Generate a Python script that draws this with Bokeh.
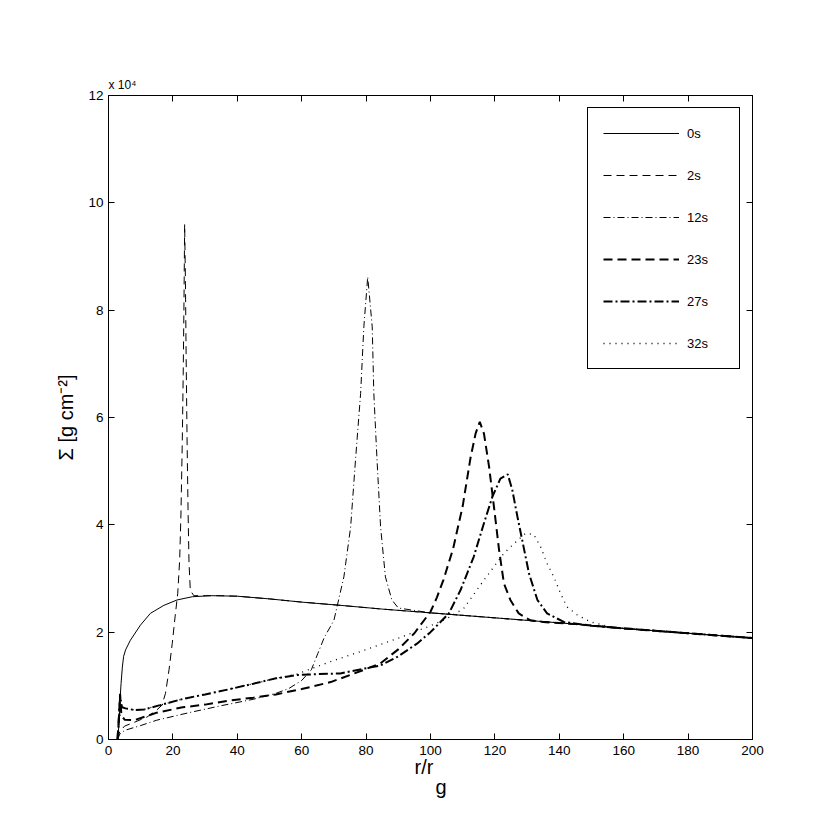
from bokeh.plotting import figure
from bokeh.models import Range1d, LinearAxis, FixedTicker, Legend, LegendItem, Title
from bokeh.embed import file_html
from bokeh.resources import INLINE

# ---- data (Sigma in units of 1e4 g cm^-2) ----
x_ticks = [0, 20, 40, 60, 80, 100, 120, 140, 160, 180, 200]
y_ticks = [0, 2, 4, 6, 8, 10, 12]
labels = ["0s", "2s", "12s", "23s", "27s", "32s"]

r_0s = [2.8, 3.3, 3.6, 3.9, 4.3, 4.7, 5.3, 6.8, 9.9, 13, 17.2, 21.3, 26, 32, 40, 50, 60, 72, 85,
        100, 115, 130, 145, 160, 180, 200]
s_0s = [0.0, 0.3, 0.75, 1.04, 1.35, 1.55, 1.67, 1.85, 2.13, 2.35, 2.50, 2.60, 2.66, 2.68, 2.67, 2.62,
        2.56, 2.50, 2.43, 2.36, 2.29, 2.22, 2.15, 2.07, 1.98, 1.89]

r_2s = [2.8, 3.5, 5, 8, 12, 15, 16.6, 17.7, 18.8, 19.8, 20.7, 21.5, 22.1, 22.5, 22.9, 23.2, 23.45,
        23.65, 23.9, 24.1, 24.4, 24.7, 25.0, 25.4, 26.5, 30, 35, 40, 50, 60, 72, 85, 100, 115, 130,
        145, 160, 180, 200]
s_2s = [0.0, 0.15, 0.25, 0.32, 0.42, 0.55, 0.64, 0.86, 1.3, 1.79, 2.3, 2.72, 3.34, 4.2, 5.5, 6.8, 8.2,
        9.6, 8.5, 7.2, 5.6, 4.3, 3.3, 2.78, 2.68, 2.68, 2.68, 2.67, 2.62, 2.56, 2.50, 2.43, 2.36, 2.29,
        2.22, 2.15, 2.07, 1.98, 1.89]

r_12s = [2.8, 3.5, 5, 10, 15, 25, 35, 45, 52, 56, 60, 63, 65, 67, 70, 73.1, 75.2, 76.7, 78.3, 79.3,
         80.5, 81.9, 82.4, 83.4, 84.5, 86, 88, 90, 100, 115, 130, 145, 160, 180, 200]
s_12s = [0.0, 0.1, 0.17, 0.26, 0.36, 0.5, 0.63, 0.75, 0.86, 0.95, 1.1, 1.3, 1.6, 1.9, 2.22, 3.03, 3.96,
         5.2, 6.45, 7.69, 8.62, 7.69, 6.45, 5.2, 3.96, 3.03, 2.6, 2.45, 2.36, 2.29, 2.22, 2.15, 2.07,
         1.98, 1.89]

r_23s = [2.8, 3.3, 3.6, 4.0, 5, 8, 11, 15, 23, 30, 37, 45, 52, 60, 69, 79, 84.5, 90, 95, 100, 102, 104,
         107, 110, 112.4, 114, 115.3, 116.6, 118.2, 119.7, 121.3, 122.8, 124.8, 127.4, 131, 135, 145,
         160, 180, 200]
s_23s = [0.0, 0.5, 0.85, 0.45, 0.37, 0.36, 0.42, 0.5, 0.6, 0.65, 0.72, 0.78, 0.84, 0.94, 1.07, 1.29,
         1.42, 1.68, 1.98, 2.38, 2.65, 2.97, 3.55, 4.35, 5.24, 5.7, 5.92, 5.7, 5.08, 4.34, 3.53, 2.91,
         2.6, 2.35, 2.22, 2.19, 2.15, 2.07, 1.98, 1.89]

r_27s = [2.8, 3.3, 3.6, 4.2, 5.3, 7.9, 11, 16, 23.4, 30, 37, 45, 52, 58.6, 65, 72, 79.3, 84.5, 89.7,
         95.9, 100, 105.7, 109.3, 113.4, 116.6, 119.2, 121.7, 124, 125.4, 127, 128.5, 130.6, 133.2,
         136.2, 141.4, 150, 160, 180, 200]
s_27s = [0.0, 0.45, 0.8, 0.6, 0.58, 0.55, 0.56, 0.64, 0.76, 0.84, 0.93, 1.04, 1.14, 1.2, 1.22, 1.23,
         1.32, 1.38, 1.54, 1.79, 2.0, 2.35, 2.78, 3.40, 4.03, 4.52, 4.86, 4.94, 4.65, 4.15, 3.71, 3.09,
         2.6, 2.35, 2.19, 2.12, 2.07, 1.98, 1.89]

r_32s = [2.8, 3.3, 3.8, 5.3, 7.9, 11, 16, 23.4, 30, 37, 45, 52, 58.6, 63, 68.9, 79.3, 89.7, 100, 105,
         110.3, 116.6, 122.8, 127, 129.5, 132.1, 134.2, 136.2, 138.3, 140.4, 142.4, 145.6, 149.7, 155,
         160, 180, 200]
s_32s = [0.0, 0.3, 0.55, 0.58, 0.55, 0.56, 0.64, 0.76, 0.84, 0.93, 1.04, 1.14, 1.22, 1.32, 1.45, 1.66,
         1.88, 2.12, 2.25, 2.44, 2.97, 3.47, 3.71, 3.84, 3.82, 3.59, 3.28, 3.03, 2.72, 2.47, 2.32, 2.19,
         2.11, 2.07, 1.98, 1.89]

FONT = "Liberation Sans"

p = figure(width=830, height=832, x_range=Range1d(0, 200), y_range=Range1d(0, 12),
           output_backend="svg", toolbar_location=None,
           min_border_left=108, min_border_right=78, min_border_top=95, min_border_bottom=93)
p.grid.visible = False
p.outline_line_color = "black"
p.outline_line_width = 1
p.background_fill_color = "white"
p.border_fill_color = "white"


def style_axis(ax, show_labels, standoff):
    ax.major_tick_in = 6
    ax.major_tick_out = 0
    ax.minor_tick_line_color = None
    ax.axis_line_color = "black"
    ax.major_tick_line_color = "black"
    ax.major_label_text_font = FONT
    ax.major_label_standoff = standoff
    if show_labels:
        ax.major_label_text_font_size = "13.5px"
        ax.major_label_text_color = "black"
    else:
        ax.major_label_text_font_size = "0px"
        ax.major_label_text_color = None


bottom_ax = p.below[0]
left_ax = p.left[0]
bottom_ax.ticker = FixedTicker(ticks=x_ticks)
left_ax.ticker = FixedTicker(ticks=y_ticks)
style_axis(bottom_ax, True, 6)
style_axis(left_ax, True, 5)

# y axis label (left only)
left_ax.axis_label = "Σ [g cm⁻²]"
left_ax.axis_label_text_font = FONT
left_ax.axis_label_text_font_size = "20px"
left_ax.axis_label_text_font_style = "normal"
left_ax.axis_label_text_color = "black"
left_ax.axis_label_standoff = 8

top_ax = LinearAxis(ticker=FixedTicker(ticks=x_ticks))
right_ax = LinearAxis(ticker=FixedTicker(ticks=y_ticks))
style_axis(top_ax, False, 0)
style_axis(right_ax, False, 0)
p.add_layout(top_ax, "above")
p.add_layout(right_ax, "right")

series = [
    (r_0s, s_0s, 1, None),
    (r_2s, s_2s, 1, "8 5"),
    (r_12s, s_12s, 1, "7 3 1 3"),
    (r_23s, s_23s, 2, "9 5"),
    (r_27s, s_27s, 2, "9 3 2 3"),
    (r_32s, s_32s, 1.3, "1 5"),
]
renderers = []
for r, s, w, dash in series:
    kw = dict(line_color="black", line_width=w)
    if dash:
        kw["line_dash"] = dash
    renderers.append(p.line(r, s, **kw))

legend = Legend(items=[LegendItem(label=l, renderers=[rr]) for l, rr in zip(labels, renderers)],
                location=(479, 370), glyph_width=76, glyph_height=20, label_standoff=8,
                spacing=22, padding=15, margin=0, label_width=37,
                border_line_color="black", border_line_width=1, border_line_alpha=1,
                background_fill_color="white", background_fill_alpha=1,
                label_text_font=FONT, label_text_font_size="13px", label_text_color="black")
p.add_layout(legend)

# multiplier above the y axis
p.title.text = "x 10⁴"
p.title.align = "left"
p.title.text_font = FONT
p.title.text_font_size = "12px"
p.title.text_font_style = "normal"
p.title.text_color = "black"
p.title.standoff = 8
p.title.offset = 0

# x axis label r/r_g (subscript g as a second, lower line)
t1 = Title(text="r/r", align="left", offset=306, text_font=FONT, text_font_size="20px",
           text_font_style="normal", text_color="black", standoff=-6, vertical_align="middle")
t2 = Title(text="g", align="left", offset=327, text_font=FONT, text_font_size="20px",
           text_font_style="normal", text_color="black", standoff=-3)
p.add_layout(t1, "below")
p.add_layout(t2, "below")

open("out.html", "w").write(file_html(p, INLINE))
